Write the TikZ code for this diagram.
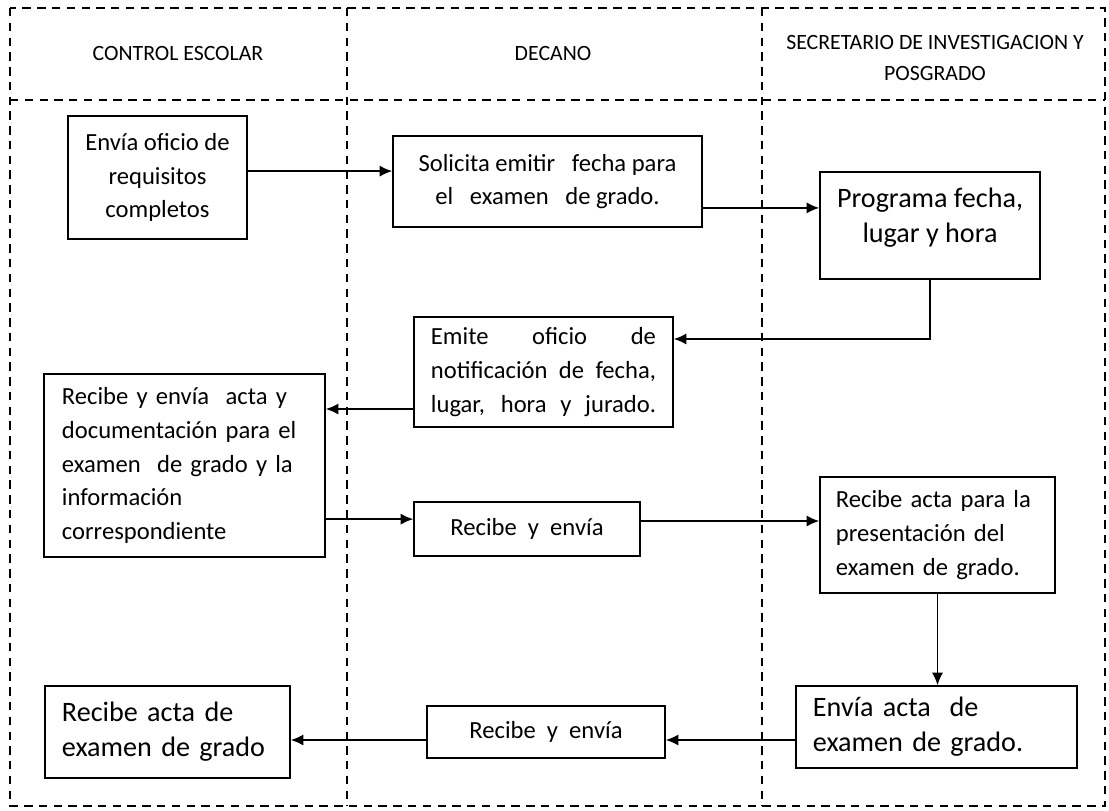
\documentclass[tikz,border=0pt]{standalone}
\usepackage{fontspec}
\setmainfont{Carlito}
\usetikzlibrary{positioning,arrows.meta}

\begin{document}
\begin{tikzpicture}[
  x=0.025cm, y=-0.025cm,
  caja/.style={draw,line width=1.1pt,inner sep=0pt,align=center},
  cajaizq/.style={caja,align=left},
  linea/.style={line width=1.1pt,dash pattern=on 6pt off 4.5pt},
  flecha/.style={-{Latex[length=9pt,width=8pt]},line width=1.1pt},
  titulo/.style={font=\fontsize{15.5}{22}\selectfont,align=center},
  grande/.style={font=\fontsize{20}{25}\selectfont},
  font=\fontsize{17.5}{24}\selectfont
]
\useasboundingbox (0,0) rectangle (1109,810);

% carriles
\draw[linea] (10,8) rectangle (1105,806);
\draw[linea] (10,100) -- (1105,100);
\draw[linea] (347,8) -- (347,806);
\draw[linea] (762,8) -- (762,806);

\node[titulo] (t1) at (178,53) {CONTROL ESCOLAR};
\node[titulo] (t2) at (553,53) {DECANO};
\node[titulo] (t3) at (935,58) {SECRETARIO DE INVESTIGACION Y\\POSGRADO};

% cajas
\node[caja,minimum width=4.475cm,minimum height=3.075cm] (b1) at (157.5,177.5)
  {Envía oficio de\\requisitos\\completos};
\node[caja,minimum width=7.725cm,minimum height=2.275cm] (b2) at (547.5,181.5)
  {Solicita emitir\ \ \ fecha para\\el\ \ \ examen\ \ \ de grado.};
\node[caja,minimum width=5.5cm,minimum height=2.675cm,
  label={[grande,align=center,yshift=0.2cm]center:Programa fecha,\\lugar y hora}] (b3) at (930,225.5) {};
\node[caja,minimum width=6.475cm,minimum height=2.75cm] (b4) at (543.5,372)
  {\makebox[5.625cm][s]{Emite oficio de}\\
   \makebox[5.625cm][s]{notificación de fecha,}\\
   \makebox[5.625cm][s]{lugar, hora y jurado.}};
\node[cajaizq,inner xsep=0.45cm,text width=6.125cm,minimum height=4.575cm] (b5) at (184.5,465.5)
  {Recibe y envía\ \ acta y\\documentación para el\\examen\ \ de grado y la\\información\\correspondiente};
\node[caja,minimum width=5.65cm,minimum height=1.35cm] (b6) at (527,529)
  {Recibe\ \ y\ \ envía};
\node[cajaizq,inner xsep=0.4cm,text width=5.075cm,minimum height=2.9cm] (b7) at (937.5,535)
  {Recibe acta para la\\presentación del\\examen de grado.};
\node[cajaizq,grande,inner xsep=0.425cm,text width=6.175cm,minimum height=2.05cm] (b8) at (936.5,727)
  {Envía acta\ \ de\\examen de grado.};
\node[cajaizq,grande,inner xsep=0.425cm,text width=5.275cm,minimum height=2.3cm] (b9) at (167.5,732)
  {Recibe acta de\\examen de grado};
\node[caja,minimum width=5.95cm,minimum height=1.3cm] (b10) at (546,732)
  {Recibe\ \ y\ \ envía};

% flechas
\draw[flecha] ([yshift=0.16cm]b1.east) -- ([yshift=0.16cm]b1.east -| b2.west);
\draw[flecha] ([yshift=-0.66cm]b2.east) -- ([yshift=-0.66cm]b2.east -| b3.west);
\draw[flecha] (b3.south) |- ([yshift=0.825cm]b4.east);
\draw[flecha] ([yshift=-0.925cm]b4.west) -- ([yshift=-0.925cm]b4.west -| b5.east);
\draw[flecha] ([yshift=-1.34cm]b5.east) -- ([yshift=-1.34cm]b5.east -| b6.west);
\draw[flecha] ([yshift=0.2cm]b6.east) -- ([yshift=0.2cm]b6.east -| b7.west);
\draw[flecha] (b7.south) -- (b7.south |- b8.north);
\draw[flecha] ([yshift=-0.325cm]b8.west) -- ([yshift=-0.325cm]b8.west -| b10.east);
\draw[flecha] ([yshift=-0.2cm]b10.west) -- ([yshift=-0.2cm]b10.west -| b9.east);
\end{tikzpicture}
\end{document}
